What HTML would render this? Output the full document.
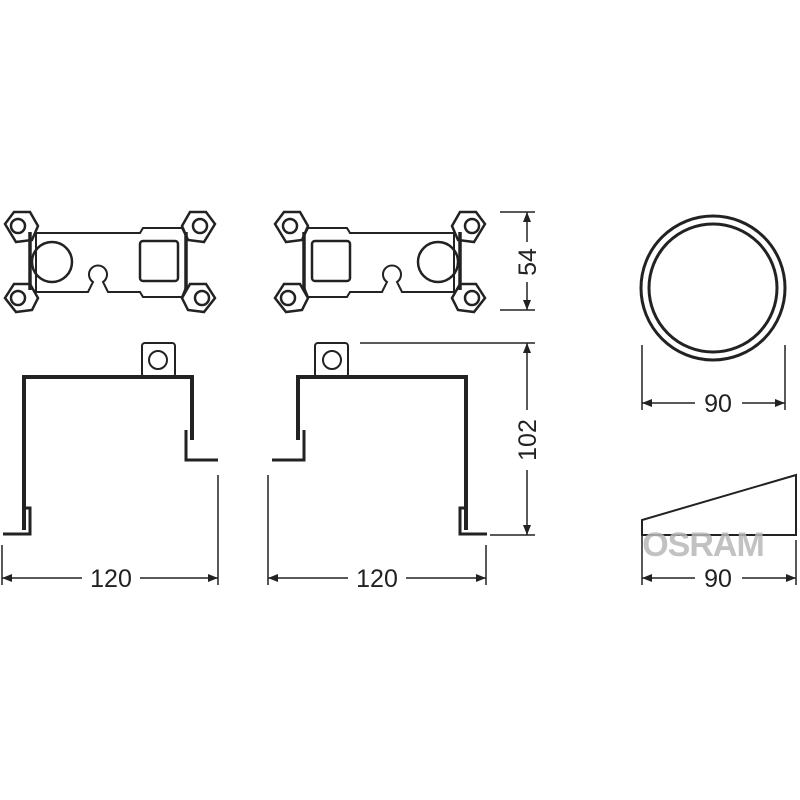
<!DOCTYPE html>
<html><head><style>body{margin:0;background:#fff}svg{display:block}</style></head><body>
<svg width="800" height="800" viewBox="0 0 800 800" xmlns="http://www.w3.org/2000/svg" font-family="Liberation Sans, sans-serif">
<defs>
<marker id="a" markerWidth="10" markerHeight="8" refX="10" refY="4" orient="auto-start-reverse" markerUnits="userSpaceOnUse"><path d="M0,0 L10,4 L0,8 Z" fill="#222"/></marker>
<g id="plate" fill="none" stroke="#222" stroke-width="2.5">
<path d="M30,232 L30,290 M186,232 L186,290" stroke-width="3.5"/>
<path d="M36,233 L140,233 L143,228 L182,228 L186,236 L186,287 L182,297 L143,297 L140,292 L108,292 L103,282 A9,9 0 1 0 93,282 L88,292 L36,292 Z" stroke-width="2"/>
<circle cx="52" cy="262" r="20"/>
<rect x="140" y="241" width="38" height="40" rx="3"/>
<path d="M5,224 L14,212 L30,212 L38,226 L32,240 L16,242 Z"/>
<circle cx="18" cy="226" r="7"/>
<path d="M5,298 L14,284 L30,284 L38,298 L32,310 L16,312 Z"/>
<circle cx="18" cy="298" r="7"/>
<path d="M215,224 L206,212 L190,212 L182,226 L188,240 L204,242 Z"/>
<circle cx="200" cy="226" r="7"/>
<path d="M215,298 L206,284 L190,284 L182,298 L188,310 L204,312 Z"/>
<circle cx="202" cy="298" r="7"/>
</g>
<g id="brk" fill="none" stroke="#222">
<path d="M24,530 L24,377 L192,377 L192,440" stroke-width="4"/>
<rect x="142" y="343" width="33" height="34" rx="3" stroke-width="2"/>
<circle cx="158" cy="360" r="9" stroke-width="2"/>
<path d="M3,534 L30,534 L30,508 L24,508" stroke-width="3"/>
<path d="M186,430 L186,460 L218,460" stroke-width="3"/>
</g>
</defs>
<use href="#plate"/>
<use href="#plate" transform="translate(490,0) scale(-1,1)"/>
<use href="#brk"/>
<use href="#brk" transform="translate(490,0) scale(-1,1)"/>
<g stroke="#222" stroke-width="1.5" fill="none">
<path d="M218,475 L218,585 M2,545 L2,585 M268,475 L268,585 M486,545 L486,585"/>
<path d="M2,578 L82,578" marker-start="url(#a)"/><path d="M140,578 L218,578" marker-end="url(#a)"/>
<path d="M268,578 L348,578" marker-start="url(#a)"/><path d="M406,578 L486,578" marker-end="url(#a)"/>
<path d="M500,212 L535,212 M500,310 L535,310 M360,343 L535,343 M490,535 L535,535"/>
<path d="M527,212 L527,242" marker-start="url(#a)"/><path d="M527,282 L527,310" marker-end="url(#a)"/>
<path d="M527,343 L527,410" marker-start="url(#a)"/><path d="M527,470 L527,535" marker-end="url(#a)"/>
<path d="M642,345 L642,410 M785,345 L785,410 M642,520 L642,585 M796,540 L796,585"/>
<path d="M642,403 L695,403" marker-start="url(#a)"/><path d="M742,403 L785,403" marker-end="url(#a)"/>
<path d="M642,578 L695,578" marker-start="url(#a)"/><path d="M742,578 L796,578" marker-end="url(#a)"/>
</g>
<circle cx="713" cy="288" r="72" fill="none" stroke="#222" stroke-width="3"/>
<circle cx="713" cy="288" r="64" fill="none" stroke="#222" stroke-width="3"/>
<path d="M642,535 L642,520 L796,475 L796,535 Z" fill="none" stroke="#222" stroke-width="2"/>
<text x="703" y="556" text-anchor="middle" font-size="34" font-weight="bold" fill="#b8b8b8" opacity="0.85" letter-spacing="-1">OSRAM</text>
<g font-size="25" fill="#222" text-anchor="middle">
<text x="111" y="587">120</text>
<text x="377" y="587">120</text>
<text x="718" y="412">90</text>
<text x="718" y="587">90</text>
<text transform="translate(536,262) rotate(-90)">54</text>
<text transform="translate(536,440) rotate(-90)">102</text>
</g>
</svg>
</body></html>
